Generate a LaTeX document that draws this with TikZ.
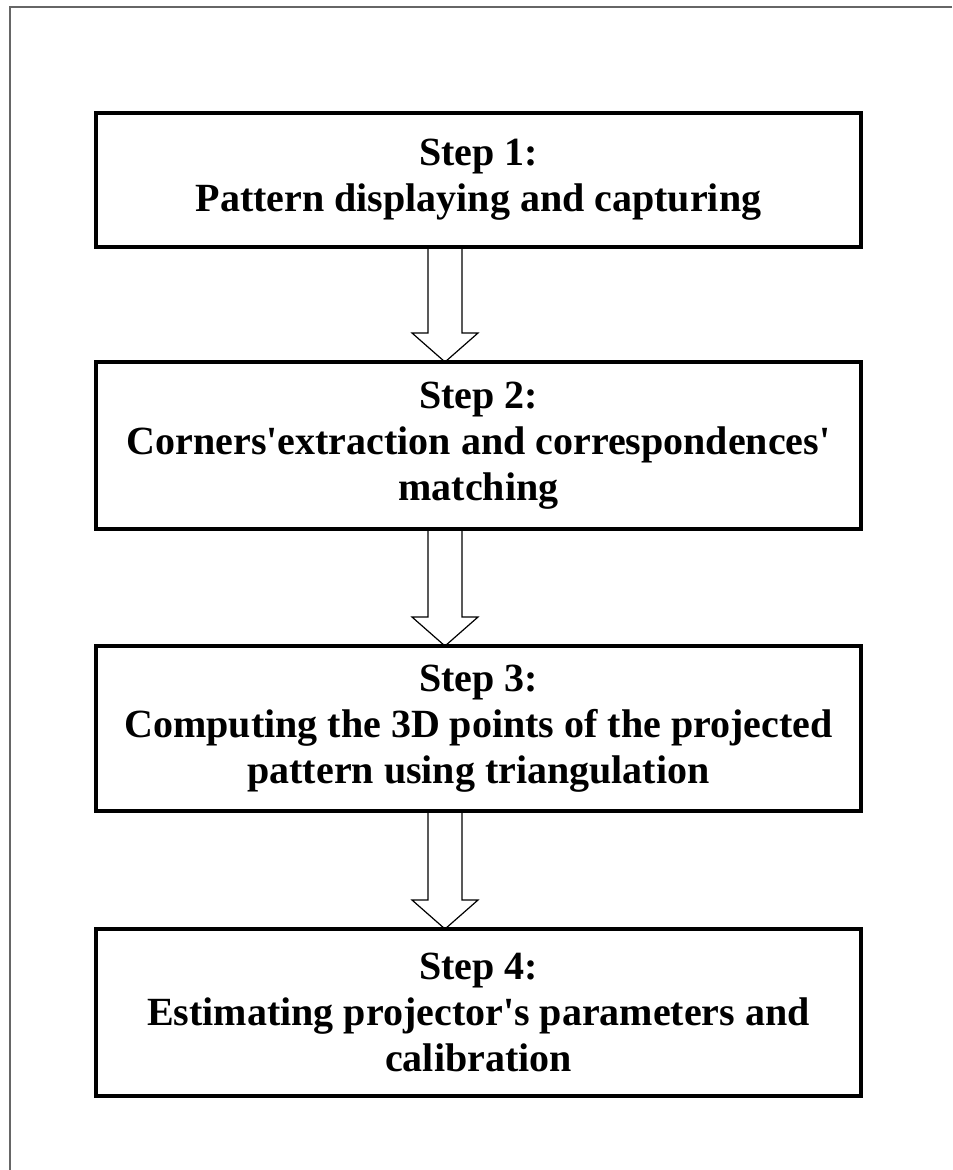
\documentclass[tikz,border=0pt]{standalone}
\usepackage{fontspec}
\setmainfont{Liberation Serif}
\usepackage{tikz}
\usetikzlibrary{shapes}

\tikzset{
    stepbox/.style = {draw, rectangle, line width = 2pt, outer sep = 0pt,
        minimum width = 382.5pt, align = center,
        font = \fontsize{20}{23}\selectfont\bfseries},
    hollow/.style = {draw, line width = 0.6pt, line join = miter},
    frame/.style = {draw = black!60, line width = 0.6pt}
}

\begin{document}
\begin{tikzpicture}[x = 0.5pt, y = -0.5pt]
        \useasboundingbox (0, 0) rectangle (952, 1170);
        \draw[frame] (952, 7) -- (10, 7) -- (10, 1170);

        \node[stepbox, minimum height = 67pt] (s1) at (478.5, 180)
            {Step 1:\\ Pattern displaying and capturing};
        \node[stepbox, minimum height = 83.5pt] (s2) at (478.5, 445.5)
            {Step 2:\\ Corners\textquotesingle extraction and correspondences\textquotesingle\\ matching};
        \node[stepbox, minimum height = 82.5pt] (s3) at (478.5, 728.5)
            {Step 3:\\ Computing the 3D points of the projected\\ pattern using triangulation};
        \node[stepbox, minimum height = 83.5pt] (s4) at (478.5, 1012.5)
            {Step 4:\\ Estimating projector\textquotesingle s parameters and\\ calibration};

        % hollow block arrows between the steps
        \foreach \a/\b in {s1/s2, s2/s3, s3/s4}
            \draw[hollow] ([xshift = -25.25pt]\a.south)
                -- ([xshift = -25.25pt, yshift = 14.5pt]\b.north)
                -- ([xshift = -33.25pt, yshift = 14.5pt]\b.north)
                -- ([xshift = -16.75pt]\b.north)
                -- ([xshift = -0.25pt, yshift = 14.5pt]\b.north)
                -- ([xshift = -8.25pt, yshift = 14.5pt]\b.north)
                -- ([xshift = -8.25pt]\a.south);
    \end{tikzpicture}
\end{document}
